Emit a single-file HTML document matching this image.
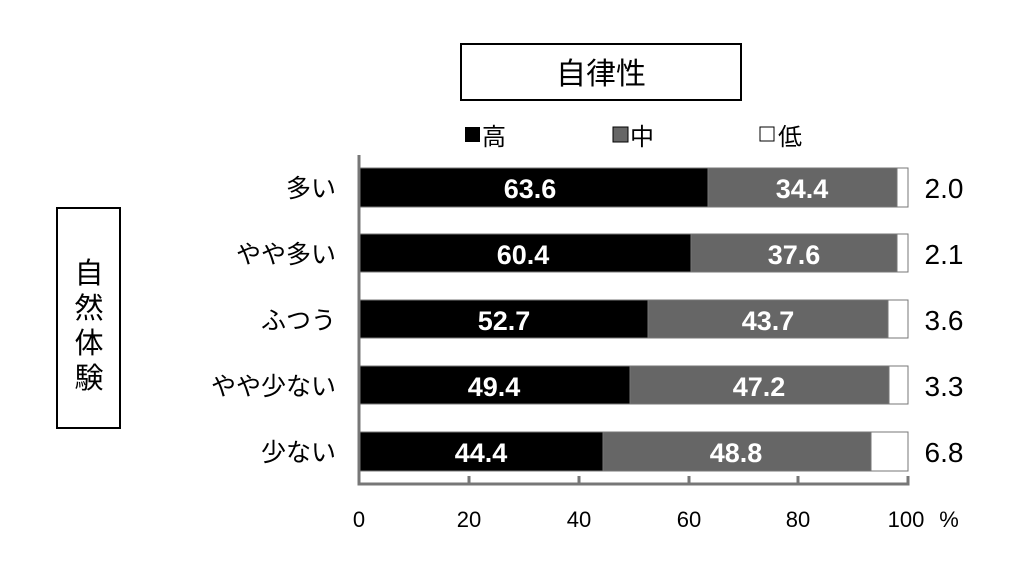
<!DOCTYPE html>
<html><head><meta charset="utf-8"><style>
body{margin:0;background:#fff;}
svg text{font-family:"Liberation Sans","Noto Sans CJK JP",sans-serif;}
</style></head><body>
<svg width="1024" height="575" xmlns="http://www.w3.org/2000/svg">
<rect x="461" y="44" width="280" height="56" fill="#fff" stroke="#000" stroke-width="2"/>
<text x="601" y="84" font-size="30" text-anchor="middle">自律性</text>
<rect x="465" y="127" width="15" height="15" fill="#000"/>
<text x="482" y="145" font-size="24">高</text>
<rect x="613" y="127" width="15" height="15" fill="#666" stroke="#000"/>
<text x="630" y="145" font-size="24">中</text>
<rect x="760" y="127" width="14" height="14" fill="#fff" stroke="#000"/>
<text x="778" y="145" font-size="24">低</text>
<rect x="57" y="208" width="63" height="220" fill="#fff" stroke="#000" stroke-width="2"/>
<text x="89" y="283" font-size="29" text-anchor="middle">自</text>
<text x="89" y="318" font-size="29" text-anchor="middle">然</text>
<text x="89" y="353" font-size="29" text-anchor="middle">体</text>
<text x="89" y="388" font-size="29" text-anchor="middle">験</text>
<g font-size="25" text-anchor="end">
<text x="336" y="197">多い</text>
<text x="336" y="263">やや多い</text>
<text x="336" y="329">ふつう</text>
<text x="336" y="395">やや少ない</text>
<text x="336" y="461">少ない</text>
</g>
<g stroke="#777" stroke-width="1">
<rect x="359" y="168" width="349" height="39" fill="#000"/><rect x="708" y="168" width="189" height="39" fill="#666"/><rect x="897" y="168" width="11" height="39" fill="#fff"/>
<rect x="359" y="234" width="332" height="38" fill="#000"/><rect x="691" y="234" width="206" height="38" fill="#666"/><rect x="897" y="234" width="11" height="38" fill="#fff"/>
<rect x="359" y="300" width="289" height="38" fill="#000"/><rect x="648" y="300" width="240" height="38" fill="#666"/><rect x="888" y="300" width="20" height="38" fill="#fff"/>
<rect x="359" y="366" width="271" height="38" fill="#000"/><rect x="630" y="366" width="259" height="38" fill="#666"/><rect x="889" y="366" width="19" height="38" fill="#fff"/>
<rect x="359" y="432" width="244" height="39" fill="#000"/><rect x="603" y="432" width="268" height="39" fill="#666"/><rect x="871" y="432" width="37" height="39" fill="#fff"/>
</g>
<g font-size="27" font-weight="bold" fill="#fff" text-anchor="middle">
<text x="530" y="198">63.6</text><text x="802" y="198">34.4</text>
<text x="523" y="264">60.4</text><text x="794" y="264">37.6</text>
<text x="504" y="330">52.7</text><text x="768" y="330">43.7</text>
<text x="494" y="396">49.4</text><text x="759" y="396">47.2</text>
<text x="481" y="462">44.4</text><text x="736" y="462">48.8</text>
</g>
<g font-size="28" text-anchor="middle">
<text x="944" y="198">2.0</text><text x="944" y="264">2.1</text><text x="944" y="330">3.6</text><text x="944" y="396">3.3</text><text x="944" y="462">6.8</text>
</g>
<g stroke="#777" stroke-width="3" fill="none">
<path d="M359 155 V484 H908 V476"/>
<path d="M469 484 V476 M579 484 V476 M689 484 V476 M798 484 V476"/>
</g>
<g font-size="22" text-anchor="middle">
<text x="359" y="527">0</text><text x="469" y="527">20</text><text x="579" y="527">40</text><text x="689" y="527">60</text><text x="798" y="527">80</text><text x="906" y="527">100</text><text x="949" y="527">%</text>
</g>
</svg>
</body></html>
